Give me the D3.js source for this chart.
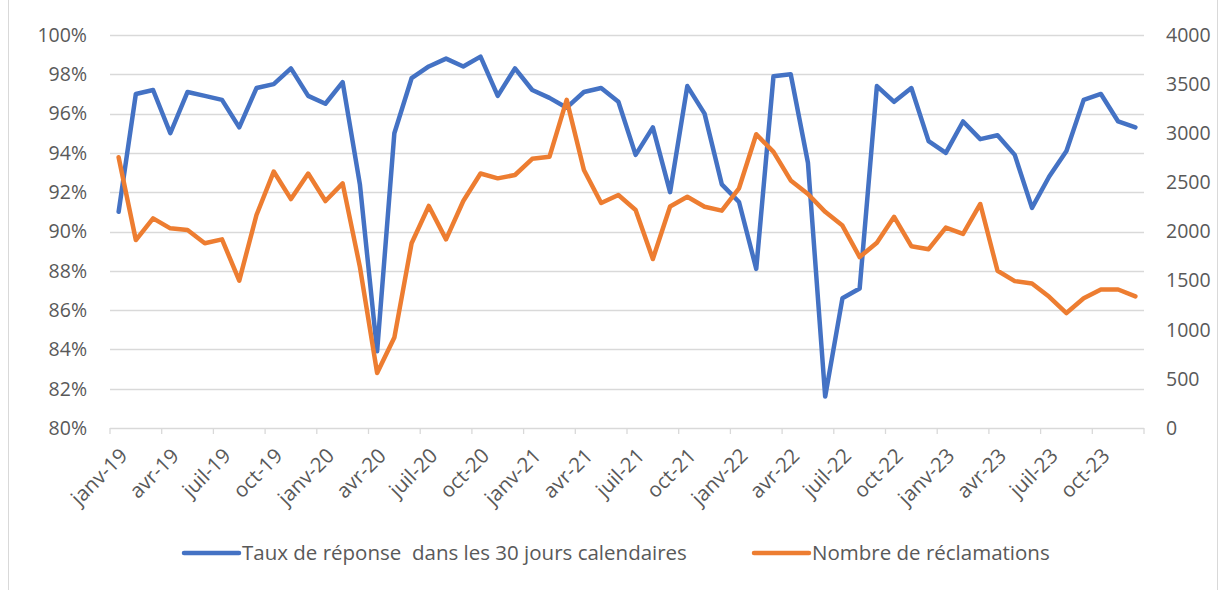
<!DOCTYPE html>
<html>
<head>
<meta charset="utf-8">
<script src="https://cdn.jsdelivr.net/npm/d3@7"></script>
<style>
  body { margin: 0; background: #fff; }
  svg { display: block; font-family: "Open Sans", Lato, "Liberation Sans", sans-serif; }
</style>
</head>
<body>
<div id="chart"></div>
<script>
// month labels, janv-19 .. déc-23
const monthNames = ["janv", "févr", "mars", "avr", "mai", "juin", "juil", "août", "sept", "oct", "nov", "déc"]
const years = ["19", "20", "21", "22", "23"]
const months = years.flatMap(y => monthNames.map(m => m + "-" + y))

// taux de réponse (%)
const tauxReponse = [
  91.0, 97.0, 97.2, 95.0, 97.1, 96.9, 96.7, 95.3, 97.3, 97.5, 98.3, 96.9,
  96.5, 97.6, 92.4, 83.9, 95.0, 97.8, 98.4, 98.8, 98.4, 98.9, 96.9, 98.3,
  97.2, 96.8, 96.3, 97.1, 97.3, 96.6, 93.9, 95.3, 92.0, 97.4, 96.0, 92.4,
  91.5, 88.1, 97.9, 98.0, 93.5, 81.6, 86.6, 87.1, 97.4, 96.6, 97.3, 94.6,
  94.0, 95.6, 94.7, 94.9, 93.9, 91.2, 92.8, 94.1, 96.7, 97.0, 95.6, 95.3
]

// nombre de réclamations
const reclamations = [
  2755, 1913, 2134, 2032, 2015, 1880, 1920, 1500, 2168, 2610, 2330, 2590,
  2310, 2490, 1640, 560, 920, 1880, 2260, 1920, 2310, 2590, 2541, 2575,
  2740, 2760, 3340, 2626, 2290, 2371, 2219, 1720, 2255, 2354, 2252, 2212,
  2440, 2990, 2810, 2520, 2382, 2200, 2060, 1740, 1886, 2150, 1850, 1820,
  2040, 1975, 2280, 1600, 1495, 1470, 1335, 1170, 1320, 1410, 1410, 1340
]

const pctTicks = d3.range(80, 100.1, 2)
const countTicks = d3.range(0, 4001, 500)

const width = 1219, height = 590
const margin = { left: 110, right: 75, top: 35, bottom: 162 }
const plotRight = width - margin.right
const plotBottom = height - margin.bottom
const textColor = "#595959"
const fontSize = 19.5

const svg = d3.select("#chart").append("svg")
  .attr("width", width)
  .attr("height", height)

// chart border
svg.append("rect")
  .attr("x", 8.5).attr("y", -1)
  .attr("width", 1209).attr("height", 592)
  .attr("fill", "none")
  .attr("stroke", "#d9d9d9")

const x = d3.scaleBand()
  .domain(months)
  .range([margin.left, plotRight])

const yPct = d3.scaleLinear().domain([80, 100]).range([plotBottom, margin.top])
const yCount = d3.scaleLinear().domain([0, 4000]).range([plotBottom, margin.top])

// gridlines
svg.append("g")
  .selectAll("line")
  .data(pctTicks.slice(1))
  .join("line")
    .attr("x1", margin.left).attr("x2", plotRight)
    .attr("y1", d => Math.round(yPct(d)) + 0.5)
    .attr("y2", d => Math.round(yPct(d)) + 0.5)
    .attr("stroke", "#d9d9d9")
    .attr("stroke-width", 1.3)

// left axis labels
svg.append("g")
  .selectAll("text")
  .data(pctTicks)
  .join("text")
    .attr("x", 87)
    .attr("y", d => yPct(d))
    .attr("dy", "0.35em")
    .attr("text-anchor", "end")
    .attr("fill", textColor)
    .attr("font-size", fontSize)
    .text(d => d + "%")

// right axis labels
svg.append("g")
  .selectAll("text")
  .data(countTicks)
  .join("text")
    .attr("x", 1166)
    .attr("y", d => yCount(d))
    .attr("dy", "0.35em")
    .attr("fill", textColor)
    .attr("font-size", fontSize)
    .text(d => d)

// x axis line and ticks
const xAxis = svg.append("g")
xAxis.append("line")
  .attr("x1", margin.left).attr("x2", plotRight)
  .attr("y1", plotBottom + 0.5).attr("y2", plotBottom + 0.5)
  .attr("stroke", "#d9d9d9")
  .attr("stroke-width", 1.3)

const tickIdx = d3.range(0, months.length + 1, 3)
xAxis.selectAll("line.tick")
  .data(tickIdx)
  .join("line")
    .attr("class", "tick")
    .attr("x1", i => i < months.length ? x(months[i]) : plotRight)
    .attr("x2", i => i < months.length ? x(months[i]) : plotRight)
    .attr("y1", plotBottom).attr("y2", plotBottom + 6)
    .attr("stroke", "#d9d9d9")
    .attr("stroke-width", 1.3)

xAxis.selectAll("text")
  .data(tickIdx.filter(i => i < months.length))
  .join("text")
    .attr("transform", i => `translate(${x(months[i]) + x.bandwidth() / 2 + 5},${plotBottom + 24}) rotate(-45)`)
    .attr("text-anchor", "end")
    .attr("dy", "0.35em")
    .attr("fill", textColor)
    .attr("font-size", 20.5)
    .text(i => months[i])

// lines
const linePct = d3.line()
  .x((d, i) => x(months[i]) + x.bandwidth() / 2)
  .y(d => yPct(d))

const lineCount = d3.line()
  .x((d, i) => x(months[i]) + x.bandwidth() / 2)
  .y(d => yCount(d))

svg.append("path")
  .attr("d", linePct(tauxReponse))
  .attr("fill", "none")
  .attr("stroke", "#4472c4")
  .attr("stroke-width", 4.5)
  .attr("stroke-linejoin", "round")
  .attr("stroke-linecap", "round")

svg.append("path")
  .attr("d", lineCount(reclamations))
  .attr("fill", "none")
  .attr("stroke", "#ed7d31")
  .attr("stroke-width", 4.5)
  .attr("stroke-linejoin", "round")
  .attr("stroke-linecap", "round")

// legend
const legendItems = [
  { label: "Taux de réponse  dans les 30 jours calendaires", color: "#4472c4", x: 184 },
  { label: "Nombre de réclamations", color: "#ed7d31", x: 754 }
]
const legend = svg.append("g")
legendItems.forEach(item => {
  legend.append("line")
    .attr("x1", item.x).attr("x2", item.x + 55)
    .attr("y1", 553).attr("y2", 553)
    .attr("stroke", item.color)
    .attr("stroke-width", 4.5)
    .attr("stroke-linecap", "round")
  legend.append("text")
    .attr("x", item.x + 58)
    .attr("y", 553)
    .attr("dy", "0.35em")
    .attr("fill", textColor)
    .attr("font-size", 20.5)
    .style("white-space", "pre")
    .text(item.label)
})
</script>
</body>
</html>
